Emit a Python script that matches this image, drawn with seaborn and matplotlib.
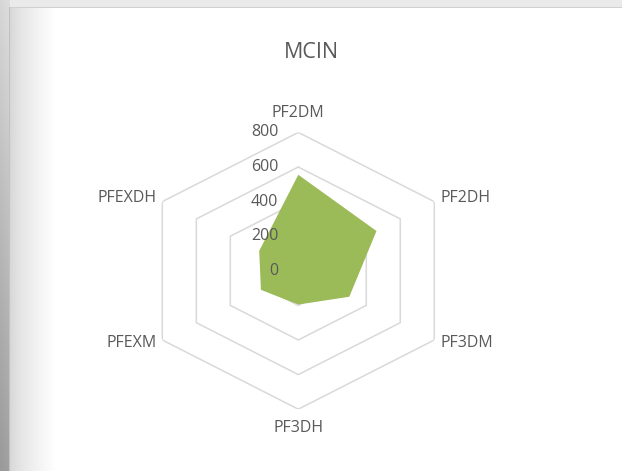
import numpy as np
import pandas as pd
import matplotlib
matplotlib.use("Agg")
import matplotlib.pyplot as plt
import seaborn as sns

# Chart data
title = "MCIN"
categories = ["PF2DM", "PF2DH", "PF3DM", "PF3DH", "PFEXM", "PFEXDH"]
values = [555, 460, 300, 195, 220, 230]
ring_values = [0, 200, 400, 600, 800]

FILL = "#9BBB59"
GRID = "#D9D9D9"
TEXT = "#595959"

sns.set_theme(style="white")
plt.rcParams["font.family"] = ["Open Sans", "DejaVu Sans"]

W, H, DPI = 622, 471, 100
fig = plt.figure(figsize=(W / DPI, H / DPI), dpi=DPI)
fig.patch.set_facecolor("white")

# Soft drop-shadow frame around the chart area
bg = np.ones((H, W))
yy, xx = np.mgrid[0:H, 0:W]
inner = np.clip((xx - 10) / 45.0, 0, 1)
bg = np.where(xx >= 10, 0.84 + 0.16 * inner ** 0.7, bg)
strip = 0.84 - 0.24 * (yy / H) + 0.03 * (xx / 9.0)
bg = np.where(xx < 10, strip, bg)
bg = np.where((yy < 7) & (xx >= 10), 0.92, bg)
bg = np.where((yy == 7) & (xx >= 9), 0.82, bg)
bg = np.where((xx == 9) & (yy >= 7), 0.76, bg)
bg_ax = fig.add_axes([0, 0, 1, 1], zorder=0)
bg_ax.imshow(np.dstack([bg, bg, bg]), aspect="auto", interpolation="nearest")
bg_ax.axis("off")

# Radar plot area (slightly wider than tall)
cx, cy = 298.3, H - 270.8
ry, rx = 138.4, 157.0
ax = fig.add_axes([(cx - rx) / W, (cy - ry) / H, 2 * rx / W, 2 * ry / H],
                  projection="polar", zorder=1)
ax.set_aspect("auto")
ax.set_facecolor("none")
ax.set_theta_zero_location("N")
ax.set_theta_direction(-1)
ax.set_ylim(0, ring_values[-1])
ax.grid(False)
ax.set_xticks([])
ax.set_yticks([])
ax.spines["polar"].set_visible(False)

n = len(categories)
angles = np.linspace(0, 2 * np.pi, n, endpoint=False)
closed = np.append(angles, angles[0])

# Hexagonal gridlines
for v in ring_values[1:]:
    ring = pd.DataFrame({"theta": closed, "r": [v] * (n + 1)})
    sns.lineplot(data=ring, x="theta", y="r", ax=ax, sort=False,
                 estimator=None, color=GRID, lw=1.1, zorder=1)

# Filled data area
ax.fill(closed, np.append(values, values[0]), color=FILL, lw=0, zorder=2)
ax.set_xlabel("")
ax.set_ylabel("")

# Radial value labels along the top spoke
for v in ring_values:
    ax.annotate(f"{v}", xy=(0, v), xytext=(-20, 0), textcoords="offset pixels",
                ha="right", va="center", fontsize=11.5, color=TEXT, zorder=3)

# Category labels
offsets = [(0, 19, "center"), (6, 4, "left"), (6, -3, "left"),
           (0, -19, "center"), (-6, -3, "right"), (-6, 4, "right")]
for ang, lab, (dx, dy, ha) in zip(angles, categories, offsets):
    ax.annotate(lab, xy=(ang, ring_values[-1]), xytext=(dx, dy),
                textcoords="offset pixels", ha=ha, va="center",
                fontsize=11.5, color=TEXT, annotation_clip=False)

fig.text(311 / W, 1 - 52 / H, title, ha="center", va="center",
         fontsize=15.5, color=TEXT)

fig.savefig("out.png", dpi=DPI)
